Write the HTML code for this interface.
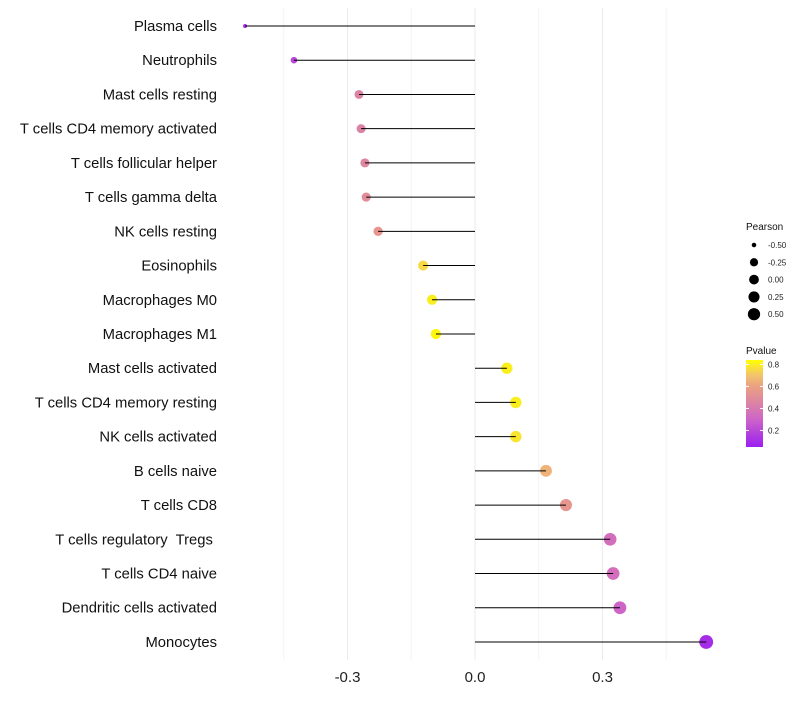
<!DOCTYPE html>
<html><head><meta charset="utf-8"><style>
body{margin:0;background:#fff;font-family:"Liberation Sans",sans-serif}
</style></head><body>
<svg id="chart" width="800" height="700" xmlns="http://www.w3.org/2000/svg" font-family="Liberation Sans, sans-serif"></svg>
<script>
const categories=["Plasma cells","Neutrophils","Mast cells resting","T cells CD4 memory activated","T cells follicular helper","T cells gamma delta","NK cells resting","Eosinophils","Macrophages M0","Macrophages M1","Mast cells activated","T cells CD4 memory resting","NK cells activated","B cells naive","T cells CD8","T cells regulatory  Tregs ","T cells CD4 naive","Dendritic cells activated","Monocytes"];
const pearson=[-0.541,-0.426,-0.273,-0.268,-0.259,-0.256,-0.228,-0.122,-0.101,-0.092,0.075,0.096,0.096,0.167,0.214,0.318,0.325,0.341,0.544];
const pvalue=[0.1,0.2,0.45,0.45,0.47,0.5,0.55,0.75,0.8,0.82,0.8,0.8,0.78,0.65,0.55,0.35,0.35,0.3,0.1];
const xTicks=[-0.3,0,0.3];
const xTickLabels=["-0.3","0.0","0.3"];
const sizeLegend=[-0.5,-0.25,0,0.25,0.5];
const colorLegend=[0.2,0.4,0.6,0.8];
const svg=document.getElementById('chart');
const NS="http://www.w3.org/2000/svg";
function mk(t,a,p){const e=document.createElementNS(NS,t);for(const k in a)e.setAttribute(k,a[k]);(p||svg).appendChild(e);return e;}
const x=v=>475+v*425;
const y=i=>26+i*34.22;
const r=v=>Math.sqrt(Math.max(4,20.25+(v+0.27)*(v<-0.27?60:34)));
function lerp(a,b,t){return Math.round(a+(b-a)*t);}
function col(p){const stops=[[0.05,[155,31,240]],[0.3,[205,100,200]],[0.47,[222,135,160]],[0.6,[235,160,130]],[0.7,[242,195,110]],[0.84,[255,255,0]]];
 p=Math.max(0.05,Math.min(0.84,p));
 for(let i=0;i<stops.length-1;i++){const[a,ca]=stops[i],[b,cb]=stops[i+1];if(p<=b){const t=(p-a)/(b-a);return `rgb(${lerp(ca[0],cb[0],t)},${lerp(ca[1],cb[1],t)},${lerp(ca[2],cb[2],t)})`;}}
 return "rgb(255,255,0)";}
[-0.45,-0.15,0.15,0.45].forEach(v=>{const g=mk('line',{x1:x(v),x2:x(v),y1:8,y2:660,stroke:'#f3f3f3','stroke-width':1});

});
xTicks.forEach((v,i)=>{const g=mk('line',{x1:x(v),x2:x(v),y1:8,y2:660,stroke:'#ebebeb','stroke-width':1});


const t=mk('text',{x:x(v),y:682,'text-anchor':'middle','font-size':15,fill:'#222'});t.textContent=xTickLabels[i];

});
categories.forEach((c,i)=>{
 const t=mk('text',{x:217,y:y(i)+5,'text-anchor':'end','font-size':14.8,fill:'#111',style:'white-space:pre'});t.textContent=c;
 
 
 const d=mk('circle',{cx:x(pearson[i]),cy:y(i),r:r(pearson[i]),fill:col(pvalue[i])});
 
 
 const l=mk('line',{x1:x(0),x2:x(pearson[i]),y1:y(i),y2:y(i),stroke:'#000','stroke-width':1});
 
 
});
const lt=mk('text',{x:746,y:230,'font-size':10,fill:'#111'});lt.textContent='Pearson';


sizeLegend.forEach((v,i)=>{const cy=245+i*17.3;
 const c=mk('circle',{cx:754,cy:cy,r:r(v)*0.9,fill:'#000'});
 
 
 const t=mk('text',{x:768,y:cy+3,'font-size':8,fill:'#222'});t.textContent=v.toFixed(2);
 
 });
const ct=mk('text',{x:746,y:354,'font-size':10,fill:'#111'});ct.textContent='Pvalue';


const defs=mk('defs',{});const lg=mk('linearGradient',{id:'pg',x1:0,y1:1,x2:0,y2:0},defs);
[0.05,0.2,0.3,0.4,0.5,0.6,0.7,0.84].forEach(p=>mk('stop',{offset:(p-0.05)/0.79,'stop-color':col(p)},lg));
const cb=mk('rect',{x:746,y:360,width:17,height:87,fill:'url(#pg)'});


const py=p=>447-(p-0.05)*(87/0.79);
colorLegend.forEach(p=>{mk('line',{x1:746,x2:749,y1:py(p),y2:py(p),stroke:'#fff'});mk('line',{x1:760,x2:763,y1:py(p),y2:py(p),stroke:'#fff'});
 const t=mk('text',{x:768,y:py(p)+3,'font-size':8,fill:'#222'});t.textContent=p.toFixed(1);
 
 });
</script>
</body></html>
